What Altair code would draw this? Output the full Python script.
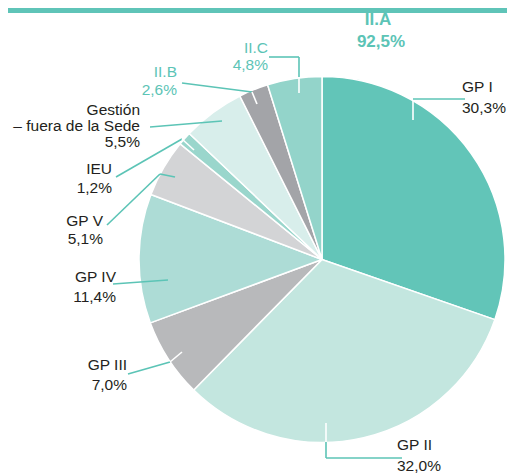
import altair as alt
import pandas as pd

# ---- data ----
categories = ["GP I", "GP II", "GP III", "GP IV", "GP V", "IEU",
              "Gestión – fuera de la Sede", "II.B", "II.C"]
values = [30.3, 32.0, 7.0, 11.4, 5.1, 1.2, 5.5, 2.6, 4.8]
pct_labels = ["30,3%", "32,0%", "7,0%", "11,4%", "5,1%", "1,2%", "5,5%", "2,6%", "4,8%"]
name_lines = [["GP I"], ["GP II"], ["GP III"], ["GP IV"], ["GP V"], ["IEU"],
              ["Gestión", "– fuera de la Sede"], ["II.B"], ["II.C"]]
group_label = "II.A"
group_pct = "92,5%"

# ---- style ----
slice_colors = ["#62c5b8", "#c3e6df", "#b8b9bb", "#addcd6", "#d3d4d6",
                "#9ad6cc", "#d8eeeb", "#a3a4a8", "#93d4ca"]
TEAL = "#5cc4b6"
DARK = "#231f20"
label_colors = [DARK] * 7 + [TEAL, TEAL]

W, H = 499, 467
M = 8  # page margin; layout below is in page pixels
CX, CY, R = 322, 259.5, 183

# ---- label layout (page px): x anchor, align, baselines ----
label_layout = [
    (462, "left", [92, 113]),
    (397, "left", [450, 471]),
    (127, "right", [370, 390]),
    (116, "right", [282, 302]),
    (103, "right", [226, 244]),
    (112, "right", [174, 193]),
    (140, "right", [115, 131, 147]),
    (177, "right", [77, 95]),
    (268, "right", [53, 70]),
]
# leader polylines (page px), colour per segment
leaders = [
    [((465, 99), (413, 99), TEAL), ((413, 100), (413, 120), "white")],
    [((326, 423), (326, 442), "white"), ((326, 442), (326, 458), TEAL), ((326, 458), (402, 458), TEAL)],
    [((128, 374), (170, 362), TEAL), ((170, 362), (182, 352), "white")],
    [((113, 284), (168, 280), TEAL)],
    [((107, 225), (160, 174), TEAL), ((160, 174), (175, 177), TEAL)],
    [((116, 177), (182, 139), TEAL), ((182, 139), (194, 150), "white")],
    [((150, 127), (222, 121), TEAL)],
    [((182, 83), (252, 92), TEAL), ((252, 92), (257, 104), "white")],
    [((269, 57), (299, 57), TEAL), ((299, 57), (299, 77), TEAL), ((299, 77), (299, 93), "white")],
]

pie_df = pd.DataFrame({"cat": categories, "value": values,
                       "order": list(range(len(categories)))})

text_rows = []
for i, (x, align, bases) in enumerate(label_layout):
    lines = name_lines[i] + [pct_labels[i]]
    for ln, b in zip(lines, bases):
        text_rows.append({"x": x, "y": b, "t": ln, "align": align, "col": label_colors[i]})
text_df = pd.DataFrame(text_rows)

seg_rows = []
for segs in leaders:
    for (p1, p2, c) in segs:
        seg_rows.append({"x": p1[0], "y": p1[1], "x2": p2[0], "y2": p2[1], "col": c})
seg_df = pd.DataFrame(seg_rows)

xs = alt.Scale(domain=[M, M + W], nice=False, zero=False)
ys = alt.Scale(domain=[M + H, M], nice=False, zero=False)

pie = alt.Chart(pie_df).mark_arc(radius=R, stroke="white", strokeWidth=1.5).encode(
    theta=alt.Theta("value:Q", stack=True),
    order=alt.Order("order:Q"),
    color=alt.Color("cat:N", scale=alt.Scale(domain=categories, range=slice_colors), legend=None),
    x=alt.value(CX - M), y=alt.value(CY - M),
)

segs_layer = alt.Chart(seg_df).mark_rule(strokeWidth=1.6).encode(
    x=alt.X("x:Q", scale=xs, axis=None), y=alt.Y("y:Q", scale=ys, axis=None),
    x2="x2:Q", y2="y2:Q",
    color=alt.Color("col:N", scale=None),
)

def text_layer(align):
    return alt.Chart(text_df[text_df["align"] == align]).mark_text(
        align=align, baseline="alphabetic", font="Liberation Sans", fontSize=15.5
    ).encode(
        x=alt.X("x:Q", scale=xs, axis=None), y=alt.Y("y:Q", scale=ys, axis=None),
        text="t:N", color=alt.Color("col:N", scale=None),
    )

group_df = pd.DataFrame({"x": [378, 381], "y": [25, 47], "t": [group_label, group_pct]})
group_text = alt.Chart(group_df).mark_text(
    align="center", baseline="alphabetic", font="Liberation Sans", fontSize=17,
    fontWeight="bold", color=TEAL
).encode(
    x=alt.X("x:Q", scale=xs, axis=None), y=alt.Y("y:Q", scale=ys, axis=None), text="t:N"
)

bar = alt.Chart(pd.DataFrame({"a": [0]})).mark_rect(color="#5fc4b8").encode(
    x=alt.value(0), x2=alt.value(W), y=alt.value(0), y2=alt.value(5)
)

chart = alt.layer(pie, segs_layer, text_layer("left"), text_layer("right"), group_text, bar).resolve_scale(
    color="independent"
).properties(
    width=W, height=H, autosize=alt.AutoSizeParams(type="none"), padding=0
).configure_view(stroke=None)

chart.save("out.html", embed_options={"renderer": "svg", "actions": False})
